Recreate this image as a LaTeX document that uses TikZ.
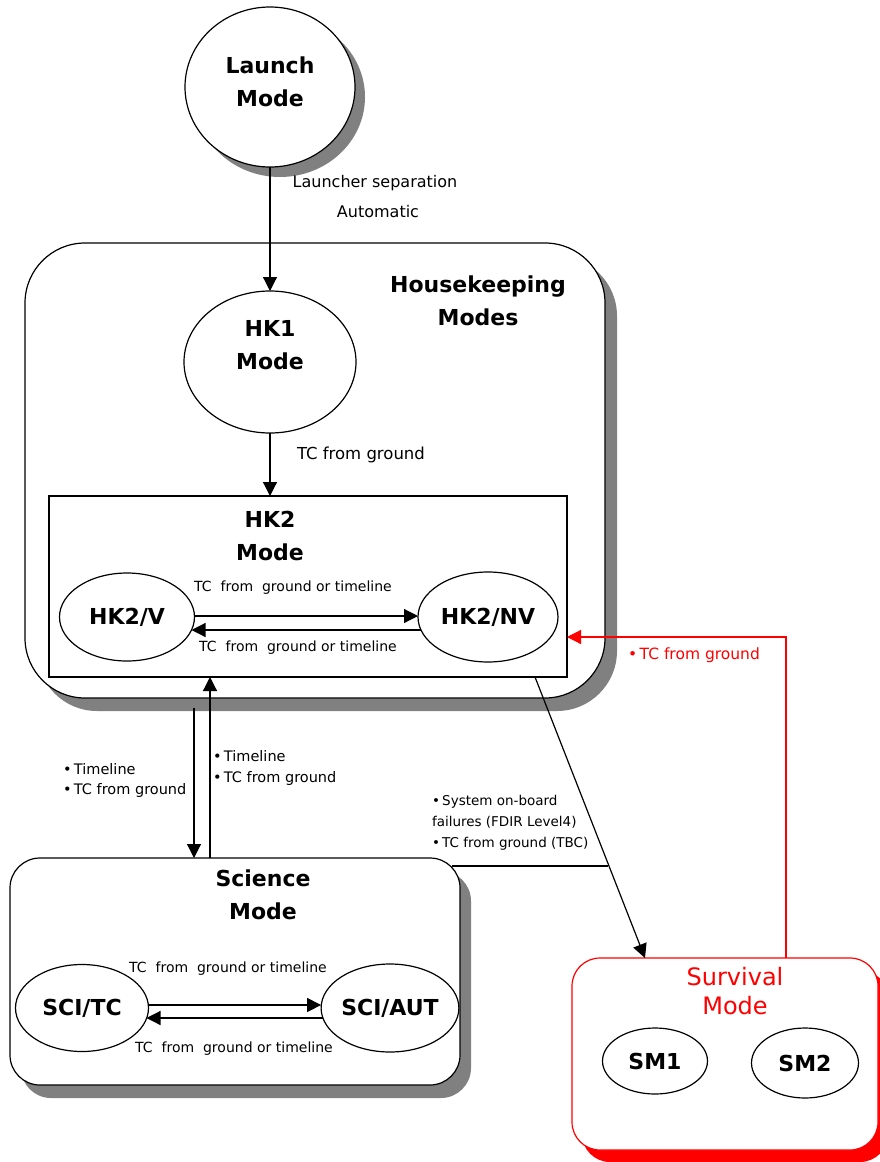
\documentclass[tikz,border=0pt]{standalone}
\usepackage{fontspec}
\setmainfont{DejaVu Sans}
\usetikzlibrary{shapes.geometric,arrows.meta,shadows}
\definecolor{shadowgray}{RGB}{128,128,128}
\definecolor{sred}{RGB}{255,0,0}
\begin{document}
\begin{tikzpicture}[x=1pt,y=-1pt,
  every node/.style={inner sep=0pt,outer sep=0pt},
  modebox/.style={draw,line width=1.2pt,fill=white,rectangle,rounded corners=#1},
  state/.style={draw,ellipse,line width=1.2pt,fill=white,font=\fontsize{22}{26}\selectfont\bfseries},
  title/.style={font=\fontsize{22}{33}\selectfont\bfseries,align=center},
  lbl/.style={font=\fontsize{14}{21}\selectfont,align=left},
  arr/.style={-{Triangle[length=14pt,width=14pt]},line width=1.2pt},
  rarr/.style={-{Triangle[length=14pt,width=14pt]},line width=1.2pt,draw=sred,color=sred}
]
\useasboundingbox (0,0) rectangle (879,1162);

% Launch
\node[state,general shadow={shadow xshift=10pt,shadow yshift=-10pt,fill=shadowgray},minimum width=170,minimum height=160] (launch) at (270,87) {};
\node[title] (launchT) at (270,81.5) {Launch\\Mode};
\node[font=\fontsize{16}{20}\selectfont] (ls1) at (375,183) {Launcher separation};
\node[font=\fontsize{16}{20}\selectfont] (ls2) at (378,212) {Automatic};

% Housekeeping
\node[modebox=60pt,general shadow={shadow xshift=12pt,shadow yshift=-13pt,fill=shadowgray},minimum width=580,minimum height=455] (hk) at (315,470.5) {};
\node[title] (hkT) at (478,301) {Housekeeping\\Modes};
\node[state,minimum width=172,minimum height=142] (hk1) at (270,362) {};
\node[title] (hk1T) at (270,345) {HK1\\Mode};
\node[draw,line width=1.2pt,fill=white,minimum width=518,minimum height=181] (hk2) at (308,586.5) {};
\node[title] (hk2T) at (270,536) {HK2\\Mode};
\node[state,minimum width=135,minimum height=88] (hkv) at (127,617) {HK2/V};
\node[state,minimum width=140,minimum height=90] (hknv) at (488,617) {HK2/NV};
\node[lbl] (l1) at (293,588) {TC\ \ from\ \ ground or timeline};
\node[lbl] (l2) at (298,648) {TC\ \ from\ \ ground or timeline};
\node[font=\fontsize{16.5}{20}\selectfont,anchor=west] (l3) at (297,455) {TC from ground};

% Science
\node[modebox=30pt,general shadow={shadow xshift=11pt,shadow yshift=-13pt,fill=shadowgray},minimum width=450,minimum height=227] (sci) at (235,971.5) {};
\node[title] (sciT) at (263,895) {Science\\Mode};
\node[state,minimum width=133,minimum height=87] (scitc) at (82,1008) {SCI/TC};
\node[state,minimum width=134,minimum height=88] (sciaut) at (390,1008) {SCI/AUT};
\node[lbl] (l4) at (228,969) {TC\ \ from\ \ ground or timeline};
\node[lbl] (l5) at (234,1049) {TC\ \ from\ \ ground or timeline};

% Survival
\node[modebox=28pt,draw=sred,general shadow={shadow xshift=10pt,shadow yshift=-12pt,fill=sred},minimum width=306,minimum height=192] (surv) at (725,1054) {};
\node[font=\fontsize{24}{29}\selectfont,align=center,text=sred] (survT) at (735,991.5) {Survival\\Mode};
\node[state,minimum width=105,minimum height=66] (sm1) at (655,1061) {SM1};
\node[state,minimum width=107,minimum height=70] (sm2) at (805,1063) {SM2};

% labels between boxes
\node[lbl,font=\fontsize{14.5}{20}\selectfont,anchor=west] (l6) at (63,780) {•\,Timeline\\•\,TC from ground};
\node[lbl,font=\fontsize{14.5}{21}\selectfont,anchor=west] (l7) at (213,767.5) {•\,Timeline\\•\,TC from ground};
\node[lbl,font=\fontsize{13.5}{21}\selectfont,anchor=west] (l8) at (432,823) {•\,System on-board\\failures (FDIR Level4)\\•\,TC from ground (TBC)};
\node[lbl,font=\fontsize{15.5}{20}\selectfont,anchor=west,text=sred] (l9) at (628,655) {•\,TC from ground};

% connectors
\draw[arr] (launch.south) -- (hk1.north);
\draw[arr] (hk1.south) -- (hk1.south |- hk2.north);
\draw[arr] ([yshift=1pt]hkv.east) -- ([yshift=1pt]hknv.west);
\draw[arr] ([yshift=-13pt,xshift=3pt]hknv.west) -- ([yshift=-13pt,xshift=-3pt]hkv.east);
\draw[arr] ([yshift=3pt]scitc.east) -- ([yshift=3pt]sciaut.west);
\draw[arr] ([yshift=-10pt,xshift=2pt]sciaut.west) -- ([yshift=-10pt,xshift=-2pt]scitc.east);

\coordinate (dn) at (194,708);
\draw[arr] (dn) -- (dn |- sci.north);
\coordinate (upx) at (210,0);
\draw[arr] (sci.north -| upx) -- (hk2.south -| upx);

\coordinate (dgs) at (535,0);
\coordinate (dge) at (645,0);
\draw[arr] (hk2.south -| dgs) -- (surv.north -| dge);

\coordinate (rx) at (786,637);
\draw[rarr] (surv.north -| rx) -- (rx) -- (rx -| hk2.east);

\coordinate (c1) at (452,866);
\coordinate (c2) at (608,866);
\draw[line width=1.2pt] (c1) -- (c2);
\end{tikzpicture}
\end{document}
